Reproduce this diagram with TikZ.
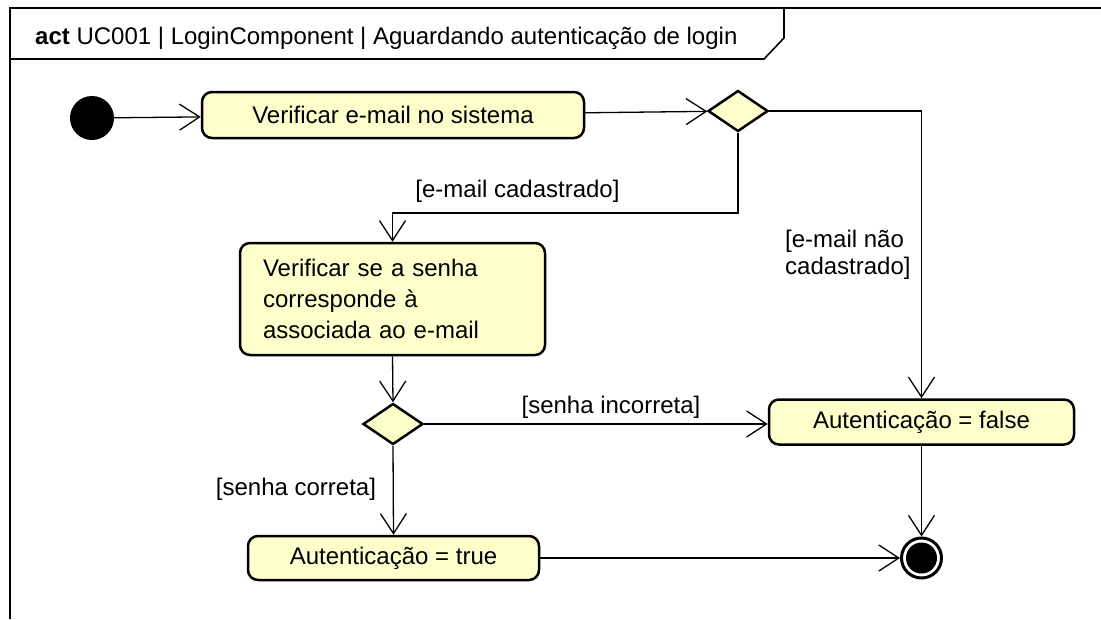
\documentclass[tikz,border=0pt]{standalone}
\usepackage{fontspec}
\setmainfont{Liberation Sans}
\usetikzlibrary{shapes.geometric,arrows.meta}
\definecolor{actfill}{RGB}{255,255,204}
\begin{document}
\begin{tikzpicture}[x=1pt,y=-1pt,
  every node/.style={font=\fontsize{24}{29}\selectfont},
  actbox/.style={draw, line width=2.5pt, rounded corners=10pt, fill=actfill, inner sep=0pt},
  decis/.style={diamond, draw, line width=2.5pt, fill=actfill, inner sep=0pt, minimum width=60pt, minimum height=41pt},
  flow/.style={line width=1.3pt, -{Straight Barb[length=20pt,width=26pt]}},
  guard/.style={anchor=base, inner sep=0pt},
  frameline/.style={line width=1.6pt}]
\useasboundingbox (0,0) rectangle (1101,619);
% frame
\draw[frameline] (10,619) -- (10,8) -- (1101,8);
\draw[frameline] (10,59) -- (764,59) -- (784,38) -- (784,8);
\node[anchor=base west, inner sep=0pt] (title) at (35,44) {\textbf{act} UC001 | LoginComponent | Aguardando autenticação de login};
% nodes
\node[circle, fill=black, minimum size=44pt, inner sep=0pt] (init) at (92,118) {};
\node[actbox, minimum width=382pt, minimum height=46pt] (a1) at (393,115) {Verificar e-mail no sistema};
\node[decis] (d1) at (738,111) {};
\node[actbox, align=left, text width=259pt, inner xsep=23pt, minimum height=112pt, font=\fontsize{24}{31}\selectfont] (a2) at (392.5,299) {Verificar se a senha\\corresponde à\\associada ao e-mail};
\node[decis] (d2) at (393,424) {};
\node[actbox, minimum width=305pt, minimum height=45pt] (a3) at (921.5,422) {Autenticação = false};
\node[actbox, minimum width=291pt, minimum height=44pt] (a4) at (393.5,558) {Autenticação = true};
\node[circle, draw, line width=3pt, minimum size=40pt, inner sep=0pt,
  path picture={\fill[black] (path picture bounding box.center) circle (15.5pt);}] (fin) at (921.5,558) {};
% guards
\node[guard] (g1) at (517.5,197) {[e-mail cadastrado]};
\node[anchor=base west, inner sep=0pt, align=left, font=\fontsize{24}{27}\selectfont] (g2) at (785,274) {[e-mail não\\cadastrado]};
\node[guard] (g3) at (611,413) {[senha incorreta]};
\node[guard] (g4) at (296,495) {[senha correta]};
% connectors
\coordinate (b1) at (738,213);
\draw[flow] (init) -- (a1);
\draw[flow] (a1) -- (d1);
\draw[flow] (d1.south) -- (b1) -| (a2.north);
\draw[flow] (d1.east) -| (a3.north);
\draw[flow] (a2.south) -- (d2.north);
\draw[flow] (d2.east) -- (d2.east -| a3.west);
\draw[flow] (d2.south) -- (a4.north);
\draw[flow] (a3.south) -- (fin.north);
\draw[flow] (a4.east) -- (fin.west);
\end{tikzpicture}
\end{document}
